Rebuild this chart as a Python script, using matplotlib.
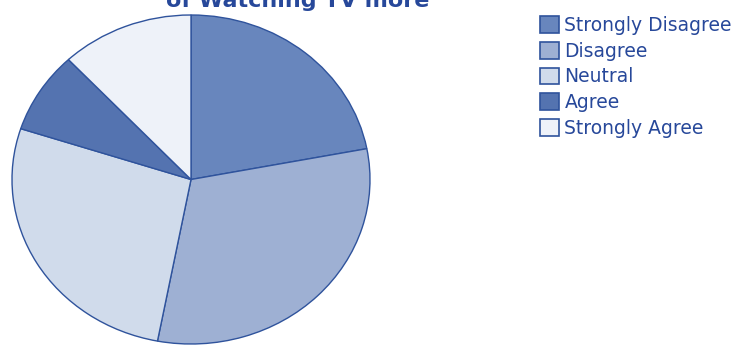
import matplotlib.pyplot as plt
from matplotlib.patches import Patch

# survey answers, share of respondents (%)
labels = ['Strongly Disagree', 'Disagree', 'Neutral', 'Agree', 'Strongly Agree']
shares = [22, 31, 27, 8, 12]
colors = ['#6886bd', '#9eb0d3', '#d0dbeb', '#5473b0', '#eef2f9']
edge = '#2f539c'
text_col = '#27489a'

fig = plt.figure(figsize=(7.39, 3.45), dpi=100)

# pie is slightly wider than tall, so aspect stays 'auto'
ax = fig.add_axes([12 / 739, 1 / 345, 358 / 739, 329 / 345])
wedges, _ = ax.pie(shares, colors=colors, startangle=90, counterclock=False,
                   wedgeprops=dict(edgecolor=edge, linewidth=1.0))
for w in wedges:
    w.set_clip_on(False)
ax.set_aspect('auto')
ax.set_xlim(-1, 1)
ax.set_ylim(-1, 1)
ax.axis('off')

# second line of the title; the first line sits above the canvas
fig.text(298 / 739, 1 - 7 / 345, 'of Watching TV more', ha='center',
         va='baseline', fontsize=16, fontweight='bold', color=text_col)

handles = [Patch(facecolor=c, edgecolor=edge, linewidth=1.2) for c in colors]
leg = fig.legend(handles, labels, loc='upper left',
                 bbox_to_anchor=(540 / 739, 1 - 16 / 345), frameon=False,
                 fontsize=13.5, handlelength=1.0, handleheight=1.0,
                 handletextpad=0.3, labelspacing=0.36, borderaxespad=0,
                 borderpad=0)
for t in leg.get_texts():
    t.set_color(text_col)

fig.savefig('out.png', dpi=100)
